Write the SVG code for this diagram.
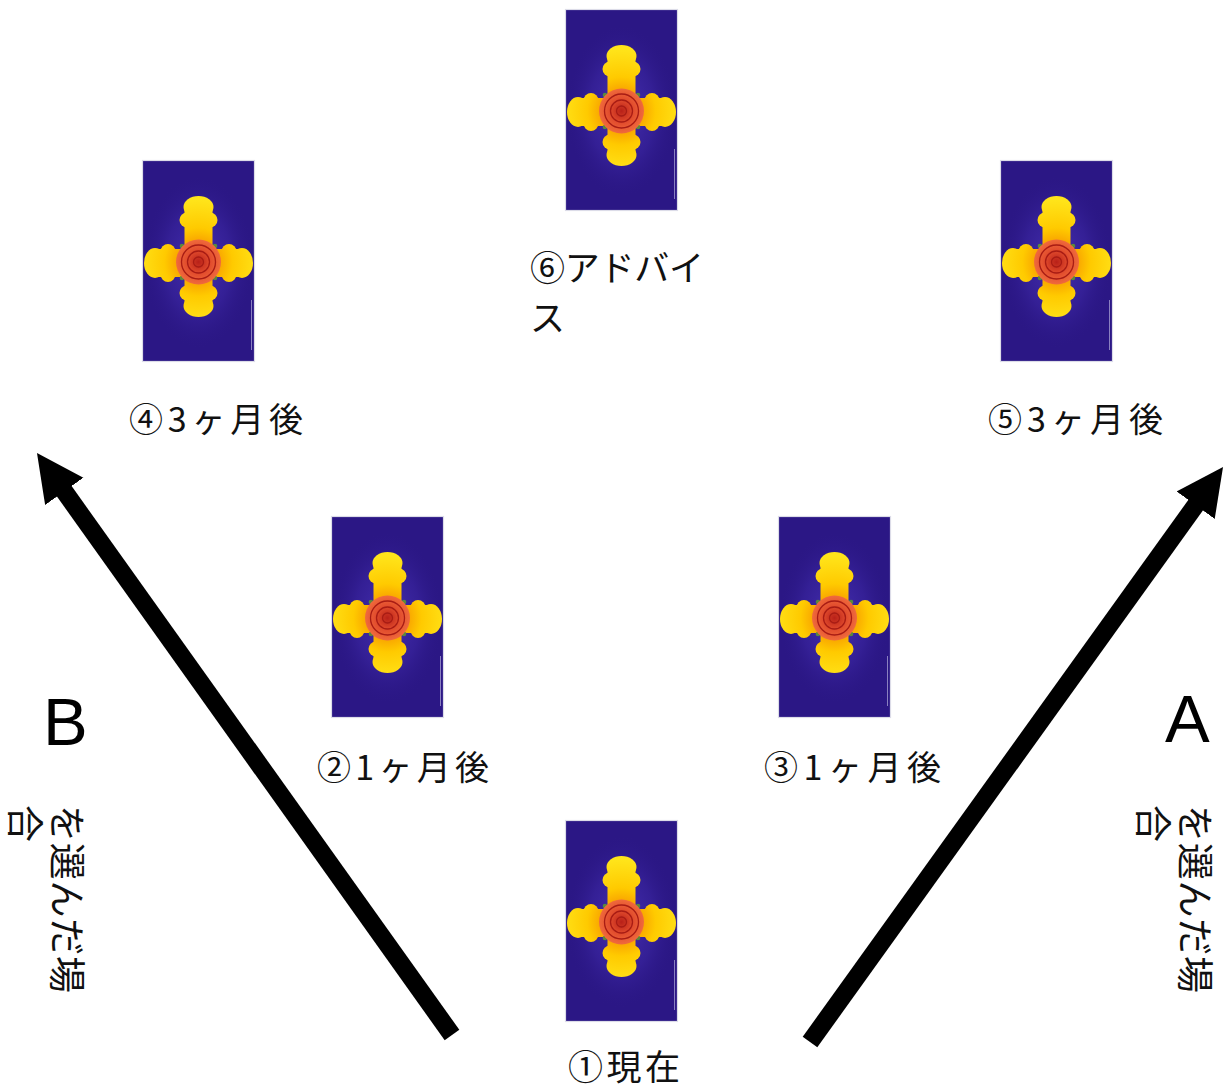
<svg xmlns="http://www.w3.org/2000/svg" xmlns:xlink="http://www.w3.org/1999/xlink" width="1229" height="1086" viewBox="0 0 1229 1086">
  <style>
    .lbl { font-family: "Noto Sans CJK JP", "Noto Sans", sans-serif; font-size: 34px; fill: #111; }
    .ser { font-family: "Liberation Serif", "Noto Sans CJK JP", serif; font-size: 35px; fill: #111; }
    .vert { font-family: "Noto Sans CJK JP", sans-serif; font-size: 37px; fill: #111; }
    .big { font-family: "Liberation Sans", Arial, sans-serif; font-size: 67px; fill: #000; }
    .arrow { stroke: #000; stroke-width: 18; fill: none; stroke-linecap: butt; }
  </style>
  <defs>
    <radialGradient id="glow" cx="0.5" cy="0.5" r="0.5">
      <stop offset="0" stop-color="#4a34b8" stop-opacity="0.9"/>
      <stop offset="0.6" stop-color="#3a25a0" stop-opacity="0.6"/>
      <stop offset="1" stop-color="#2c1888" stop-opacity="0"/>
    </radialGradient>
    <radialGradient id="crossGrad" gradientUnits="userSpaceOnUse" cx="56.5" cy="102" r="62">
      <stop offset="0" stop-color="#F07800"/>
      <stop offset="0.3" stop-color="#F8A000"/>
      <stop offset="0.55" stop-color="#FFCA00"/>
      <stop offset="1" stop-color="#FFE41A"/>
    </radialGradient>
    <radialGradient id="roseGrad" cx="0.5" cy="0.5" r="0.5">
      <stop offset="0" stop-color="#B82018"/>
      <stop offset="0.5" stop-color="#E04A2C"/>
      <stop offset="1" stop-color="#F06A3C"/>
    </radialGradient>
    <marker id="head" markerUnits="userSpaceOnUse" markerWidth="48" markerHeight="48" viewBox="0 0 48 48" refX="7" refY="23.5" orient="auto">
      <path d="M0,0 L47,23.5 L0,47 Z" fill="#000"/>
    </marker>
    <g id="card">
      <rect x="0.5" y="0.5" width="112" height="201" fill="#2b1785" stroke="#dcdce8" stroke-width="1.2"/>
      <ellipse cx="56.5" cy="102" rx="55" ry="86" fill="url(#glow)"/>
      <g fill="url(#crossGrad)">
        <rect x="42.5" y="47" width="28" height="99"/>
        <rect x="13" y="89" width="87" height="28"/>
        <ellipse cx="56.5" cy="47" rx="15" ry="11"/>
        <circle cx="45" cy="60" r="7.5"/>
        <circle cx="68" cy="60" r="7.5"/>
        <ellipse cx="56.5" cy="146" rx="15" ry="11"/>
        <circle cx="45" cy="133" r="7.5"/>
        <circle cx="68" cy="133" r="7.5"/>
        <ellipse cx="13" cy="103" rx="11" ry="15"/>
        <circle cx="26" cy="91.5" r="7.5"/>
        <circle cx="26" cy="114.5" r="7.5"/>
        <ellipse cx="100" cy="103" rx="11" ry="15"/>
        <circle cx="87" cy="91.5" r="7.5"/>
        <circle cx="87" cy="114.5" r="7.5"/>
      </g>
      <g fill="#5a8a3a">
        <circle cx="40" cy="86" r="2.3"/>
        <circle cx="73" cy="86" r="2.3"/>
        <circle cx="40" cy="118" r="2.3"/>
        <circle cx="73" cy="118" r="2.3"/>
      </g>
      <circle cx="56.5" cy="102" r="22.5" fill="url(#roseGrad)"/>
      <g fill="none" stroke="#A81C14" stroke-width="1.3">
        <circle cx="56.5" cy="102" r="17"/>
        <circle cx="56.5" cy="102" r="11"/>
        <circle cx="56.5" cy="102" r="5"/>
      </g>
      <rect x="109" y="140" width="1" height="50" fill="#8a80c0"/>
    </g>
  </defs>

  <rect width="1229" height="1086" fill="#fff"/>

  <g id="connectors">
    <line class="arrow" x1="452" y1="1035" x2="60.2" y2="485.6" marker-end="url(#head)"/>
    <line class="arrow" x1="810" y1="1042" x2="1199.7" y2="499.5" marker-end="url(#head)"/>
  </g>

  <g id="card6">
    <use xlink:href="#card" x="565" y="9"/>
    <text class="ser" x="530" y="281" textLength="174" lengthAdjust="spacing">⑥アドバイ</text>
    <text class="ser" x="530" y="331">ス</text>
  </g>
  <g id="card4">
    <use xlink:href="#card" x="142" y="160"/>
    <text class="lbl" x="129" y="432" textLength="174" lengthAdjust="spacing">④3ヶ月後</text>
  </g>
  <g id="card5">
    <use xlink:href="#card" x="1000" y="160"/>
    <text class="lbl" x="988" y="432" textLength="175" lengthAdjust="spacing">⑤3ヶ月後</text>
  </g>
  <g id="card2">
    <use xlink:href="#card" x="331" y="516"/>
    <text class="lbl" x="317" y="780" textLength="172" lengthAdjust="spacing">②1ヶ月後</text>
  </g>
  <g id="card3">
    <use xlink:href="#card" x="778" y="516"/>
    <text class="lbl" x="764" y="780" textLength="177" lengthAdjust="spacing">③1ヶ月後</text>
  </g>
  <g id="card1">
    <use xlink:href="#card" x="565" y="820"/>
    <text class="ser" x="568" y="1080" textLength="112" lengthAdjust="spacing">①現在</text>
  </g>

  <g id="labelB">
    <text class="big" x="43" y="745">B</text>
    <text class="vert" transform="translate(53,805) rotate(90)" textLength="188" lengthAdjust="spacing">を選んだ場</text>
    <text class="vert" transform="translate(11,805) rotate(90)">合</text>
  </g>
  <g id="labelA">
    <text class="big" x="1165" y="742">A</text>
    <text class="vert" transform="translate(1181,805) rotate(90)" textLength="188" lengthAdjust="spacing">を選んだ場</text>
    <text class="vert" transform="translate(1139,805) rotate(90)">合</text>
  </g>
</svg>
